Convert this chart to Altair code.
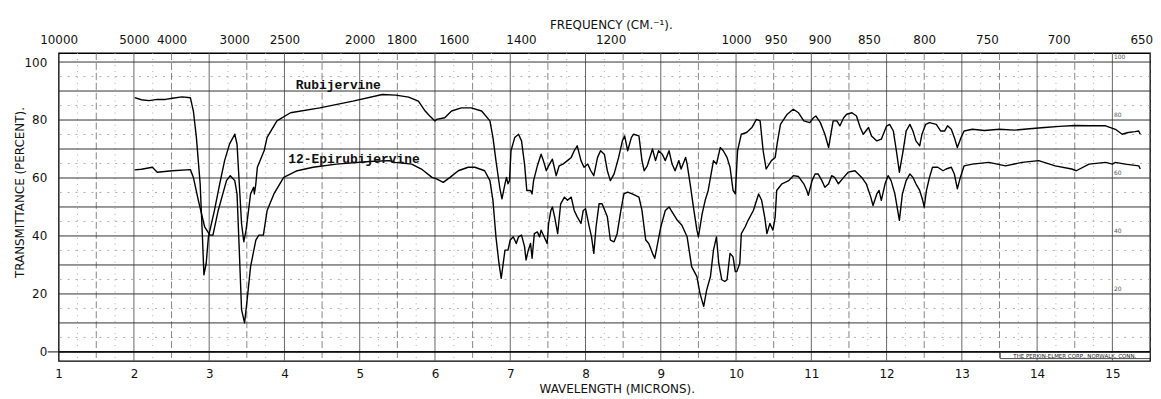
import altair as alt
import pandas as pd

# ---- data (wavelength in microns, transmittance in %) ----
ru_um = [2.01, 2.10, 2.20, 2.31, 2.42, 2.51, 2.64, 2.75, 2.79, 2.83, 2.88, 2.91, 2.93, 2.96, 2.99, 3.07, 3.14, 3.205, 3.27, 3.34,
         3.37, 3.40, 3.43, 3.46, 3.49, 3.55, 3.59, 3.60, 3.62, 3.64, 3.73, 3.77, 3.90, 4.08, 4.47, 4.91, 5.30, 5.48, 5.65, 5.78,
         5.87, 5.93, 6.00, 6.02, 6.13, 6.22, 6.35, 6.48, 6.62, 6.73, 6.77, 6.81, 6.86, 6.89, 6.93, 6.95, 6.97, 6.99, 7.01, 7.06,
         7.11, 7.15, 7.19, 7.22, 7.27, 7.29, 7.31, 7.36, 7.41, 7.44, 7.48, 7.51, 7.56, 7.61, 7.65, 7.70, 7.76, 7.81, 7.85, 7.89,
         7.94, 7.98, 8.03, 8.07, 8.11, 8.16, 8.20, 8.25, 8.29, 8.33, 8.38, 8.44, 8.49, 8.52, 8.56, 8.61, 8.64, 8.71, 8.75, 8.78,
         8.82, 8.89, 8.93, 8.97, 9.02, 9.06, 9.11, 9.15, 9.19, 9.24, 9.27, 9.33, 9.35, 9.39, 9.44, 9.48, 9.50, 9.55, 9.59, 9.63,
         9.70, 9.74, 9.79, 9.83, 9.88, 9.92, 9.96, 9.99, 10.02, 10.07, 10.14, 10.21, 10.27, 10.32, 10.36, 10.40, 10.47, 10.52, 10.55, 10.59,
         10.68, 10.76, 10.83, 10.90, 10.98, 11.03, 11.06, 11.12, 11.18, 11.23, 11.26, 11.29, 11.34, 11.38, 11.43, 11.47, 11.54, 11.60, 11.65, 11.69,
         11.76, 11.80, 11.87, 11.93, 12.00, 12.04, 12.09, 12.13, 12.17, 12.22, 12.26, 12.31, 12.35, 12.39, 12.44, 12.47, 12.52, 12.57, 12.66, 12.72,
         12.77, 12.81, 12.86, 12.90, 12.94, 12.99, 13.03, 13.14, 13.30, 13.50, 13.70, 13.90, 14.10, 14.30, 14.50, 14.70, 14.91, 15.04, 15.13, 15.21,
         15.30, 15.35, 15.37]
ru_t = [87.7, 87.0, 86.7, 87.1, 87.1, 87.5, 88.0, 87.7, 83.1, 74.0, 58.0, 40.0, 26.6, 30.5, 39.7, 48.8, 58.0, 66.0, 71.7, 75.1,
        71.7, 58.0, 44.3, 38.0, 42.0, 54.5, 56.8, 54.5, 58.0, 63.7, 69.4, 74.0, 79.7, 82.5, 84.2, 86.5, 88.8, 88.6, 87.9, 86.5,
        83.1, 81.4, 79.7, 80.2, 80.8, 83.1, 84.2, 84.2, 83.1, 79.7, 74.0, 66.0, 56.8, 52.8, 58.0, 60.2, 58.0, 59.1, 69.4, 74.0,
        75.1, 72.8, 64.8, 55.7, 55.7, 54.5, 59.1, 64.2, 68.2, 66.0, 62.5, 64.2, 66.5, 60.8, 64.2, 64.8, 66.0, 67.1, 69.4, 71.1,
        66.0, 63.7, 64.8, 62.5, 60.8, 67.1, 69.4, 68.2, 62.5, 59.1, 61.4, 67.1, 72.8, 74.5, 69.4, 74.0, 75.1, 74.5, 66.0, 62.5,
        64.2, 70.0, 66.0, 69.4, 68.2, 66.0, 69.4, 64.8, 62.5, 66.0, 63.1, 67.1, 64.8, 58.0, 48.8, 42.0, 39.7, 47.7, 52.3, 55.7,
        66.0, 64.8, 70.5, 69.4, 67.1, 63.7, 55.7, 54.5, 69.4, 75.1, 75.7, 77.4, 80.2, 79.7, 69.4, 63.1, 66.0, 67.1, 72.5, 78.5,
        82.0, 83.7, 82.5, 79.7, 79.1, 80.8, 81.4, 79.1, 75.1, 70.5, 75.1, 79.7, 79.7, 78.0, 80.8, 82.0, 82.5, 81.4, 77.4, 75.1,
        77.4, 74.5, 72.8, 73.4, 77.9, 78.5, 76.2, 69.4, 62.0, 69.4, 76.2, 78.5, 76.2, 72.8, 71.1, 75.1, 78.5, 79.1, 78.5, 76.2,
        76.2, 78.0, 76.8, 74.0, 70.5, 74.0, 76.2, 76.8, 76.4, 76.8, 76.5, 77.0, 77.4, 77.8, 78.1, 78.0, 78.0, 76.8, 75.1, 75.7,
        76.0, 76.2, 75.1]

ep_um = [2.01, 2.10, 2.245, 2.31, 2.51, 2.75, 2.79, 2.856, 2.94, 3.01, 3.05, 3.12, 3.23, 3.28, 3.34, 3.37, 3.40, 3.43, 3.47, 3.50,
         3.55, 3.62, 3.66, 3.72, 3.77, 3.86, 3.99, 4.17, 4.38, 4.69, 5.13, 5.39, 5.47, 5.69, 5.82, 5.96, 6.02, 6.11, 6.20, 6.31,
         6.44, 6.53, 6.66, 6.73, 6.77, 6.81, 6.85, 6.88, 6.93, 6.97, 7.00, 7.04, 7.08, 7.11, 7.15, 7.19, 7.21, 7.24, 7.27, 7.29,
         7.32, 7.36, 7.39, 7.41, 7.45, 7.49, 7.51, 7.54, 7.56, 7.59, 7.63, 7.67, 7.72, 7.76, 7.81, 7.85, 7.89, 7.94, 7.97, 8.00,
         8.05, 8.08, 8.11, 8.14, 8.18, 8.22, 8.29, 8.33, 8.38, 8.42, 8.47, 8.51, 8.56, 8.62, 8.71, 8.75, 8.80, 8.84, 8.89, 8.92,
         8.95, 9.00, 9.06, 9.11, 9.15, 9.22, 9.28, 9.35, 9.41, 9.48, 9.52, 9.57, 9.61, 9.66, 9.70, 9.74, 9.77, 9.81, 9.85, 9.88,
         9.92, 9.96, 9.99, 10.01, 10.05, 10.07, 10.12, 10.16, 10.23, 10.30, 10.34, 10.38, 10.41, 10.45, 10.49, 10.52, 10.54, 10.61, 10.70, 10.76,
         10.83, 10.90, 10.94, 10.96, 11.01, 11.05, 11.09, 11.14, 11.18, 11.23, 11.27, 11.31, 11.36, 11.43, 11.49, 11.58, 11.67, 11.73, 11.79, 11.82,
         11.87, 11.90, 11.93, 11.98, 12.02, 12.06, 12.11, 12.17, 12.21, 12.26, 12.31, 12.35, 12.39, 12.44, 12.48, 12.50, 12.53, 12.57, 12.61, 12.68,
         12.75, 12.79, 12.86, 12.90, 12.94, 12.98, 13.03, 13.14, 13.36, 13.58, 13.80, 14.02, 14.24, 14.46, 14.52, 14.69, 14.91, 15.00, 15.04, 15.17,
         15.35, 15.37]
ep_t = [62.8, 63.0, 63.7, 62.0, 62.5, 62.9, 60.2, 52.3, 43.1, 40.3, 40.3, 48.8, 59.1, 60.8, 59.1, 54.5, 35.1, 14.6, 10.0, 16.9,
        29.4, 38.6, 40.3, 40.3, 48.8, 54.5, 60.2, 62.5, 63.7, 64.8, 65.7, 66.0, 65.4, 64.8, 63.1, 60.2, 59.7, 58.5, 60.2, 62.5,
        63.7, 63.7, 62.5, 59.1, 52.3, 39.7, 30.6, 25.4, 35.1, 35.1, 38.6, 39.7, 37.4, 39.7, 40.3, 36.3, 31.7, 35.1, 37.4, 32.3,
        40.8, 41.4, 39.7, 42.0, 39.7, 37.4, 44.3, 48.8, 50.0, 46.6, 40.8, 51.1, 53.4, 52.3, 53.4, 48.8, 46.6, 44.3, 48.8, 49.4,
        43.1, 39.7, 34.0, 43.1, 51.1, 51.1, 46.6, 38.6, 38.0, 40.8, 48.8, 54.5, 55.1, 54.5, 53.4, 48.8, 38.6, 37.4, 34.0, 32.3,
        36.3, 43.1, 48.8, 50.0, 48.3, 45.4, 43.7, 39.7, 29.4, 26.0, 20.3, 15.7, 21.4, 26.0, 35.1, 39.7, 30.6, 24.9, 24.3, 24.9,
        34.0, 32.8, 27.7, 27.7, 30.6, 40.8, 43.1, 45.4, 48.8, 54.5, 52.3, 46.6, 40.8, 44.3, 42.0, 46.6, 55.7, 58.0, 59.1, 60.8,
        60.5, 58.0, 55.7, 54.0, 59.1, 61.4, 61.4, 59.1, 56.8, 58.0, 60.8, 60.2, 58.0, 60.2, 62.0, 62.5, 60.2, 58.0, 53.4, 50.5,
        54.5, 55.7, 52.3, 58.0, 60.8, 59.1, 54.5, 45.4, 54.5, 59.1, 61.4, 60.2, 58.0, 55.7, 52.3, 50.0, 55.7, 60.2, 63.7, 63.7,
        62.5, 63.1, 63.7, 61.4, 56.3, 60.2, 64.2, 64.8, 65.4, 64.2, 65.4, 66.0, 64.2, 63.1, 62.5, 64.8, 65.4, 64.8, 65.4, 64.8,
        64.2, 63.1]

series_names = ["Rubijervine", "12-Epirubijervine"]
label_um = [4.15, 4.05]
label_t = [92.1, 66.5]

micron_ticks = list(range(1, 16))
wavenumbers = [10000, 5000, 4000, 3000, 2500, 2000, 1800, 1600, 1400, 1200, 1000, 950, 900, 850, 800, 750, 700, 650]
pct_ticks = list(range(0, 101, 10))
paper_marks = [100, 80, 60, 40, 20]

# ---- tables ----
spec = pd.DataFrame({
    "um": ru_um + ep_um,
    "t": ru_t + ep_t,
    "series": [series_names[0]] * len(ru_um) + [series_names[1]] * len(ep_um),
})
labels = pd.DataFrame({"um": label_um, "t": label_t, "label": series_names})
hmajor = pd.DataFrame({"t": pct_ticks})
hzero = pd.DataFrame({"t": [0]})
hminor = pd.DataFrame({"t": [v + 5 for v in pct_ticks[:-1]]})
v_int = pd.DataFrame({"um": micron_ticks[1:]})
v_half = pd.DataFrame({"um": [m + 0.5 for m in micron_ticks]})
v_quarter = pd.DataFrame({"um": [m + 0.25 for m in micron_ticks[:-1]] + [m + 0.75 for m in micron_ticks[:-1]]})
marks = pd.DataFrame({"um": [15.02] * len(paper_marks), "t": [v + 0.8 for v in paper_marks], "txt": [str(v) for v in paper_marks]})
maker = pd.DataFrame({"um": [13.51], "um2": [15.5], "t": [-0.2], "t2": [-2.3], "mid": [14.5], "tm": [-1.25],
                      "txt": ["THE PERKIN-ELMER CORP., NORWALK, CONN."]})

xs = alt.Scale(domain=[1, 15.5], nice=False, zero=False)
ys = alt.Scale(domain=[-3.1, 103.1], nice=False, zero=False)

FONT = "DejaVu Sans"
FS = 12

bottom_axis = alt.Axis(orient="bottom", values=micron_ticks, format="d", grid=False, ticks=False, domain=False,
                       labelFlush=False, labelOverlap=False, labelPadding=8, labelFont=FONT, labelFontSize=FS,
                       labelColor="#111", title="WAVELENGTH (MICRONS).", titleFont=FONT, titleFontSize=FS,
                       titleFontWeight="normal", titleColor="#111", titleX=562, titleY=28, titleBaseline="middle",
                       titleAlign="center", titleAnchor="start")
top_axis = alt.Axis(orient="top", values=[10000 / w for w in wavenumbers],
                    labelExpr="format(round(10000 / datum.value), 'd')", grid=False, ticks=False, domain=False,
                    labelFlush=False, labelOverlap=False, labelPadding=7, labelFont=FONT, labelFontSize=FS,
                    labelColor="#111", title="FREQUENCY (CM.\u207b\u00b9).", titleFont=FONT, titleFontSize=FS,
                    titleFontWeight="normal", titleColor="#111", titleX=556, titleY=-29, titleBaseline="middle",
                    titleAlign="center", titleAnchor="start")
left_axis = alt.Axis(values=pct_ticks, labelExpr="datum.value % 20 == 0 ? datum.label : ''", grid=False,
                     ticks=False, domain=False, labelPadding=12, labelFont=FONT, labelFontSize=FS, labelColor="#111",
                     title="TRANSMITTANCE (PERCENT).", titleFont=FONT, titleFontSize=FS, titleFontWeight="normal",
                     titleColor="#111", titleX=-39, titleY=140, titleAngle=-90, titleBaseline="middle",
                     titleAlign="center", titleAnchor="start")

X0 = alt.X("um:Q", scale=xs, axis=None)
Y0 = alt.Y("t:Q", scale=ys, axis=None)

g_quarter = alt.Chart(v_quarter).mark_rule(color="#9a9a9a", strokeWidth=0.8, strokeDash=[1, 5]).encode(x=X0)
g_hminor = alt.Chart(hminor).mark_rule(color="#9a9a9a", strokeWidth=0.8, strokeDash=[2, 6]).encode(y=Y0)
g_half = alt.Chart(v_half).mark_rule(color="#666", strokeWidth=0.8, strokeDash=[7, 3]).encode(x=X0)
g_int = alt.Chart(v_int).mark_rule(color="#555", strokeWidth=0.9).encode(x=X0)
g_h = alt.Chart(hmajor).mark_rule(color="#333", strokeWidth=1.0).encode(y=Y0)
g_zero = alt.Chart(hzero).mark_rule(color="#111", strokeWidth=1.8).encode(y=Y0)
zero_dash = alt.Chart(hzero).mark_rule(color="#111", strokeWidth=1.0).encode(
    y=Y0, x=alt.value(-11), x2=alt.value(0))

maker_box = alt.Chart(maker).mark_rect(fill="white", stroke="#222", strokeWidth=0.8).encode(
    x=X0, x2="um2:Q", y=Y0, y2="t2:Q")
maker_txt = alt.Chart(maker).mark_text(font=FONT, fontSize=5.5, color="#222", baseline="middle").encode(
    x=alt.X("mid:Q", scale=xs, axis=None), y=alt.Y("tm:Q", scale=ys, axis=None), text="txt:N")
paper_txt = alt.Chart(marks).mark_text(font=FONT, fontSize=6, color="#555", align="left", baseline="bottom").encode(
    x=X0, y=Y0, text="txt:N")

curves = alt.Chart(spec).mark_line(color="black", strokeWidth=1.4, strokeJoin="round").encode(
    x=alt.X("um:Q", scale=xs, axis=bottom_axis),
    y=alt.Y("t:Q", scale=ys, axis=left_axis),
    detail="series:N",
)
names = alt.Chart(labels).mark_text(font="Liberation Mono", fontSize=13, fontWeight="bold", color="#111",
                                    align="left", baseline="middle").encode(
    x=alt.X("um:Q", scale=xs, axis=top_axis),
    y=Y0,
    text="label:N",
)

chart = alt.layer(
    g_quarter, g_hminor, g_half, g_int, g_h, g_zero, zero_dash, paper_txt, maker_box, maker_txt, curves, names
).resolve_axis(x="independent", y="independent").properties(
    width=1099, height=310,
    padding={"left": 51, "top": 44, "right": 3, "bottom": 38},
    autosize=alt.AutoSizeParams(type="none"),
    background="white",
).configure_view(stroke="black", strokeWidth=1.3)

chart.save("out.html", embed_options={"renderer": "svg", "actions": False})
